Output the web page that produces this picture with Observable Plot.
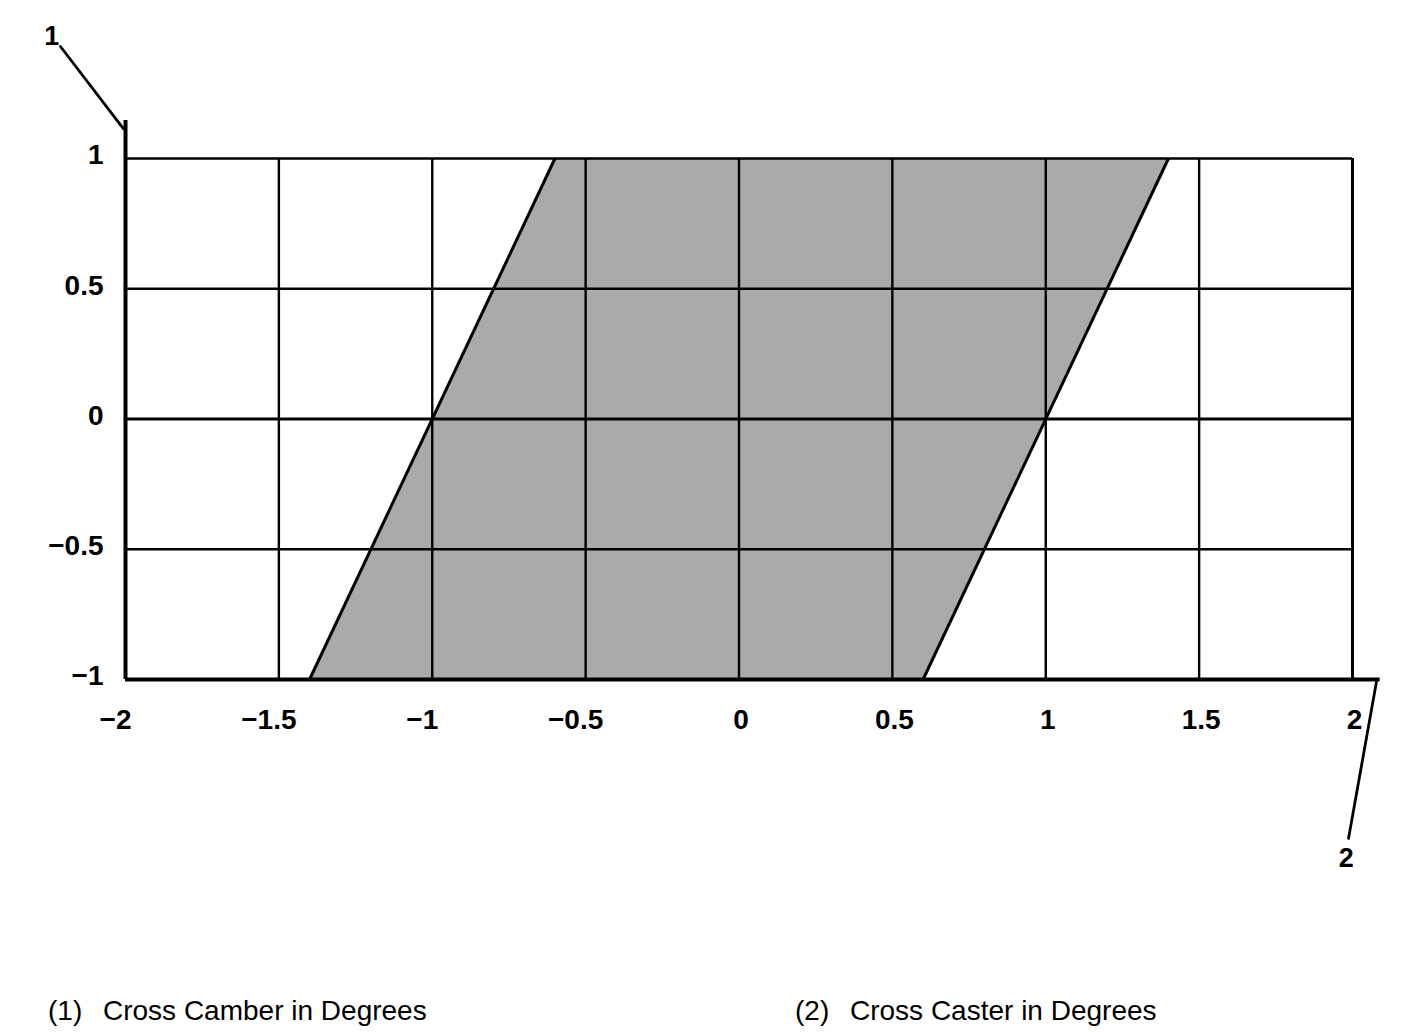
<!DOCTYPE html>
<html>
<head>
<meta charset="utf-8">
<script src="https://cdn.jsdelivr.net/npm/d3@7"></script>
<script src="https://cdn.jsdelivr.net/npm/@observablehq/plot@0.6"></script>
<style>
  html, body { margin: 0; padding: 0; background: #fff; }
  #wrap { position: relative; width: 1408px; height: 1032px; font-family: "Liberation Sans", Arial, sans-serif; }
  .cap { position: absolute; top: 995px; font-size: 28px; line-height: 32px; color: #000; white-space: pre; }
</style>
</head>
<body>
<div id="wrap"></div>
<script>
// Tick values and labels
const xTicks = [-2, -1.5, -1, -0.5, 0, 0.5, 1, 1.5, 2];
const xTickLabels = ["−2", "−1.5", "−1", "−0.5", "0", "0.5", "1", "1.5", "2"];
const yTicks = [-1, -0.5, 0, 0.5, 1];
const yTickLabels = ["−1", "−0.5", "0", "0.5", "1"];

// Permissible region (parallelogram): left and right edges at y = -1 and y = 1
const regionY = [-1, 1];
const regionLeft = [-1.4, -0.6];
const regionRight = [0.6, 1.4];

// Axis lines (extended beyond the grid)
const leftAxisY = [-1, 1.146];
const bottomAxisX = [-2, 2.09];

// Callouts
const callout1 = { x: [-2.212, -2.007], y: [1.43, 1.115], label: "1", lx: -2.24, ly: 1.47 };
const callout2 = { x: [2.078, 1.987], y: [-1.01, -1.61], label: "2", lx: 1.98, ly: -1.685 };

const captionNums = ["(1)", "(2)"];
const captionTexts = ["Cross Camber in Degrees", "Cross Caster in Degrees"];

const region = regionY.map((y, i) => ({ y, left: regionLeft[i], right: regionRight[i] }));
const xLab = xTicks.map((v, i) => ({ v, label: xTickLabels[i] }));
const yLab = yTicks.map((v, i) => ({ v, label: yTickLabels[i] }));

const W = 1408, H = 980;
const FS = 28;
const chart = Plot.plot({
  width: W,
  height: H,
  marginLeft: 125,
  marginRight: 56,
  marginTop: 158,
  marginBottom: H - 679,
  x: { domain: [-2, 2], axis: null },
  y: { domain: [-1, 1], axis: null },
  style: { fontFamily: "Liberation Sans, Arial, sans-serif", background: "#fff" },
  marks: [
    Plot.areaX(region, { y: "y", x1: "left", x2: "right", fill: "#aaaaaa", curve: "linear" }),
    // vertical grid
    Plot.ruleX(xTicks.slice(1, -1), { y1: -1, y2: 1, stroke: "#000", strokeWidth: 2.4 }),
    Plot.ruleX(xTicks.slice(-1), { y1: -1, y2: 1, stroke: "#000", strokeWidth: 3 }),
    // horizontal grid
    Plot.ruleY(yTicks.slice(1), { x1: -2, x2: 2, stroke: "#000", strokeWidth: d => d === 0 ? 3 : 2.5 }),
    // region edges
    Plot.link(region.slice(0, 1), { x1: "left", y1: "y", x2: () => regionLeft[1], y2: () => regionY[1], stroke: "#000", strokeWidth: 3 }),
    Plot.link(region.slice(0, 1), { x1: "right", y1: "y", x2: () => regionRight[1], y2: () => regionY[1], stroke: "#000", strokeWidth: 3 }),
    // axes
    Plot.ruleX([-2], { y1: leftAxisY[0], y2: leftAxisY[1], stroke: "#000", strokeWidth: 4, clip: false }),
    Plot.ruleY([-1], { x1: bottomAxisX[0], x2: bottomAxisX[1], stroke: "#000", strokeWidth: 4, clip: false }),
    // callouts
    Plot.line(callout1.x.map((x, i) => ({ x, y: callout1.y[i] })), { x: "x", y: "y", stroke: "#000", strokeWidth: 2.8 }),
    Plot.line(callout2.x.map((x, i) => ({ x, y: callout2.y[i] })), { x: "x", y: "y", stroke: "#000", strokeWidth: 2.8 }),
    Plot.text([callout1, callout2], { x: "lx", y: "ly", text: "label", fontSize: 27, fontWeight: "bold", fill: "#000" }),
    // x tick labels
    Plot.text(xLab.filter(d => d.v < 0), { x: "v", frameAnchor: "bottom", lineAnchor: "middle", dy: 41, dx: -10, text: "label", fontSize: FS, fontWeight: "bold", fill: "#000" }),
    Plot.text(xLab.filter(d => d.v >= 0), { x: "v", frameAnchor: "bottom", lineAnchor: "middle", dy: 41, dx: 2, text: "label", fontSize: FS, fontWeight: "bold", fill: "#000" }),
    // y tick labels
    Plot.text(yLab, { y: "v", frameAnchor: "left", lineAnchor: "middle", dx: -22, dy: -3, textAnchor: "end", text: "label", fontSize: FS, fontWeight: "bold", fill: "#000" })
  ]
});

const wrap = document.getElementById("wrap");
wrap.appendChild(chart);
const capPos = [[48, 103], [795, 850]];
captionNums.forEach((n, i) => {
  const a = document.createElement("div");
  a.className = "cap"; a.style.left = capPos[i][0] + "px"; a.textContent = n;
  const b = document.createElement("div");
  b.className = "cap"; b.style.left = capPos[i][1] + "px"; b.textContent = captionTexts[i];
  wrap.appendChild(a); wrap.appendChild(b);
});
</script>
</body>
</html>
